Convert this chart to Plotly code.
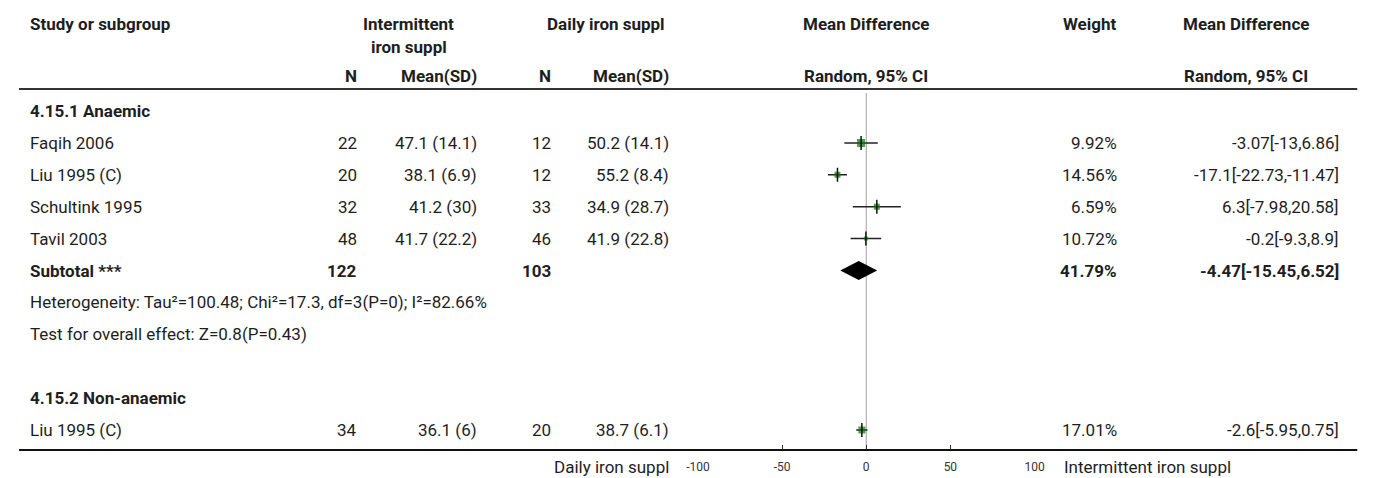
import plotly.graph_objects as go

# ---------------- data ----------------
sub1_label = "4.15.1 Anaemic"
sub1_studies = ["Faqih 2006", "Liu 1995 (C)", "Schultink 1995", "Tavil 2003"]
sub1_n1 = [22, 20, 32, 48]
sub1_mean1 = [47.1, 38.1, 41.2, 41.7]
sub1_sd1 = [14.1, 6.9, 30, 22.2]
sub1_n2 = [12, 12, 33, 46]
sub1_mean2 = [50.2, 55.2, 34.9, 41.9]
sub1_sd2 = [14.1, 8.4, 28.7, 22.8]
sub1_md = [-3.07, -17.1, 6.3, -0.2]
sub1_lo = [-13, -22.73, -7.98, -9.3]
sub1_hi = [6.86, -11.47, 20.58, 8.9]
sub1_weight = [9.92, 14.56, 6.59, 10.72]

sub1_total_n1 = 122
sub1_total_n2 = 103
sub1_total_weight = 41.79
sub1_total_md = -4.47
sub1_total_lo = -15.45
sub1_total_hi = 6.52
sub1_het = "Heterogeneity: Tau\u00b2=100.48; Chi\u00b2=17.3, df=3(P=0); I\u00b2=82.66%"
sub1_test = "Test for overall effect: Z=0.8(P=0.43)"

sub2_label = "4.15.2 Non-anaemic"
sub2_studies = ["Liu 1995 (C)"]
sub2_n1 = [34]
sub2_mean1 = [36.1]
sub2_sd1 = [6]
sub2_n2 = [20]
sub2_mean2 = [38.7]
sub2_sd2 = [6.1]
sub2_md = [-2.6]
sub2_lo = [-5.95]
sub2_hi = [0.75]
sub2_weight = [17.01]

x_ticks = [-100, -50, 0, 50, 100]
left_label = "Daily iron suppl"
right_label = "Intermittent iron suppl"

# ---------------- layout helpers (styles / positions) ----------------
W, H = 1375, 478
OFF = 8  # page body margin
FONT = "Roboto"
FS = 17
TXT = "#1e1e1e"
GREEN = "#007a00"
ROW0, ROWH = 111, 31.9
AXIS_PIX = 450


def px(p):
    return (p - OFF) / W


def py(p):
    return 1 - (p - OFF) / H


def row_pix(i):
    return ROW0 + ROWH * i


def row_idx(p):
    return (p - ROW0) / ROWH


annotations = []


def text(x, y, s, anchor="left", bold=False, size=FS, color=TXT):
    if bold:
        s = "<b>" + s + "</b>"
    annotations.append(dict(
        x=px(x), y=py(y), xref="paper", yref="paper", text=s,
        showarrow=False, xanchor=anchor, yanchor="middle",
        font=dict(family=FONT, size=size, color=color)))


def g(v):
    return f"{v:g}"


# column positions (screen pixels)
X_STUDY = 16
X_N1 = 353
X_M1 = 474
X_N2 = 550
X_M2 = 670
X_WEIGHT = 1125
X_MDTXT = 1350
X_MDHEAD = 1254
X_PLOT_L, X_PLOT_R = 697, 1039
X_PLOT_C = (X_PLOT_L + X_PLOT_R) / 2

# header
text(X_STUDY, 24, "Study or subgroup", bold=True)
text(403, 24, "Intermittent", anchor="center", bold=True)
text(403, 47, "iron suppl", anchor="center", bold=True)
text(604, 24, "Daily iron suppl", anchor="center", bold=True)
text(X_PLOT_C, 24, "Mean Difference", anchor="center", bold=True)
text(X_WEIGHT, 24, "Weight", anchor="right", bold=True)
text(X_MDHEAD, 24, "Mean Difference", anchor="center", bold=True)
text(X_N1, 76, "N", anchor="right", bold=True)
text(X_M1, 76, "Mean(SD)", anchor="right", bold=True)
text(X_N2, 76, "N", anchor="right", bold=True)
text(X_M2, 76, "Mean(SD)", anchor="right", bold=True)
text(X_PLOT_C, 76, "Random, 95% CI", anchor="center", bold=True)
text(X_MDHEAD, 76, "Random, 95% CI", anchor="center", bold=True)

# rows
point_rows, point_md, point_lo, point_hi = [], [], [], []


def study_rows(start, studies, n1, m1, s1, n2, m2, s2, md, lo, hi, w):
    for k in range(len(studies)):
        i = start + k
        y = row_pix(i)
        text(X_STUDY, y, studies[k])
        text(X_N1, y, str(n1[k]), anchor="right")
        text(X_M1, y, f"{g(m1[k])} ({g(s1[k])})", anchor="right")
        text(X_N2, y, str(n2[k]), anchor="right")
        text(X_M2, y, f"{g(m2[k])} ({g(s2[k])})", anchor="right")
        text(X_WEIGHT, y, f"{w[k]:.2f}%", anchor="right")
        text(X_MDTXT, y, f"{g(md[k])}[{g(lo[k])},{g(hi[k])}]", anchor="right")
        point_rows.append(i)
        point_md.append(md[k])
        point_lo.append(lo[k])
        point_hi.append(hi[k])


text(X_STUDY, row_pix(0), sub1_label, bold=True)
study_rows(1, sub1_studies, sub1_n1, sub1_mean1, sub1_sd1, sub1_n2, sub1_mean2,
           sub1_sd2, sub1_md, sub1_lo, sub1_hi, sub1_weight)
r_sub = 1 + len(sub1_studies)
text(X_STUDY, row_pix(r_sub), "Subtotal ***", bold=True)
text(X_N1, row_pix(r_sub), str(sub1_total_n1), anchor="right", bold=True)
text(X_N2, row_pix(r_sub), str(sub1_total_n2), anchor="right", bold=True)
text(X_WEIGHT, row_pix(r_sub), f"{sub1_total_weight:.2f}%", anchor="right", bold=True)
text(X_MDTXT, row_pix(r_sub),
     f"{g(sub1_total_md)}[{g(sub1_total_lo)},{g(sub1_total_hi)}]", anchor="right", bold=True)
text(X_STUDY, row_pix(r_sub + 1), sub1_het)
text(X_STUDY, row_pix(r_sub + 2), sub1_test)
r2 = r_sub + 4
text(X_STUDY, row_pix(r2), sub2_label, bold=True)
study_rows(r2 + 1, sub2_studies, sub2_n1, sub2_mean1, sub2_sd1, sub2_n2, sub2_mean2,
           sub2_sd2, sub2_md, sub2_lo, sub2_hi, sub2_weight)

# bottom labels
text(X_M2, 467, left_label, anchor="right")
text(1067, 467, right_label, anchor="left")

marker_sizes = [8, 6, 6, 4, 7]

fig = go.Figure()
# CI lines
fig.add_trace(go.Scatter(
    x=point_md, y=point_rows, mode="markers",
    marker=dict(size=1, color="rgba(0,0,0,0)"),
    error_x=dict(type="data", symmetric=False,
                 array=[h - m for h, m in zip(point_hi, point_md)],
                 arrayminus=[m - l for m, l in zip(point_md, point_lo)],
                 width=0, thickness=1.5, color="#222"),
    hoverinfo="skip", showlegend=False))
# squares
fig.add_trace(go.Scatter(
    x=point_md, y=point_rows, mode="markers",
    marker=dict(symbol="square", size=marker_sizes, color=GREEN, line=dict(width=0)),
    showlegend=False))
# vertical ticks at estimates
fig.add_trace(go.Scatter(
    x=point_md, y=point_rows, mode="markers",
    marker=dict(symbol="line-ns", size=10, line=dict(width=1.5, color="#111")),
    showlegend=False))
# diamond
dh = 0.3
fig.add_trace(go.Scatter(
    x=[sub1_total_lo, sub1_total_md, sub1_total_hi, sub1_total_md, sub1_total_lo],
    y=[r_sub, r_sub - dh, r_sub, r_sub + dh, r_sub],
    mode="lines", fill="toself", fillcolor="black", line=dict(width=0, color="black"),
    showlegend=False))

shapes = [
    dict(type="line", xref="paper", yref="paper", x0=px(7), x1=px(1367),
         y0=py(89), y1=py(89), line=dict(color="#333", width=2)),
    dict(type="line", xref="paper", yref="paper", x0=px(7), x1=px(1367),
         y0=py(AXIS_PIX), y1=py(AXIS_PIX), line=dict(color="#111", width=2)),
    dict(type="line", xref="x", yref="paper", x0=0, x1=0,
         y0=py(AXIS_PIX), y1=py(93), line=dict(color="#a0a0a0", width=1), layer="below"),
]

fig.update_layout(
    width=W, height=H, margin=dict(l=0, r=0, t=0, b=0),
    paper_bgcolor="white", plot_bgcolor="white",
    annotations=annotations, shapes=shapes,
    xaxis=dict(domain=[px(X_PLOT_L), px(X_PLOT_R)], range=[-100, 100],
               tickvals=x_ticks, ticktext=[str(t) for t in x_ticks],
               ticks="inside", ticklen=5, tickcolor="#333", tickwidth=1,
               ticklabelstandoff=8,
               showgrid=False, zeroline=False, showline=False,
               tickfont=dict(family=FONT, size=12, color="#333")),
    yaxis=dict(domain=[py(AXIS_PIX), 1], range=[row_idx(AXIS_PIX), row_idx(OFF)],
               visible=False, showgrid=False, zeroline=False),
    showlegend=False,
)

fig.write_html("out.html")
